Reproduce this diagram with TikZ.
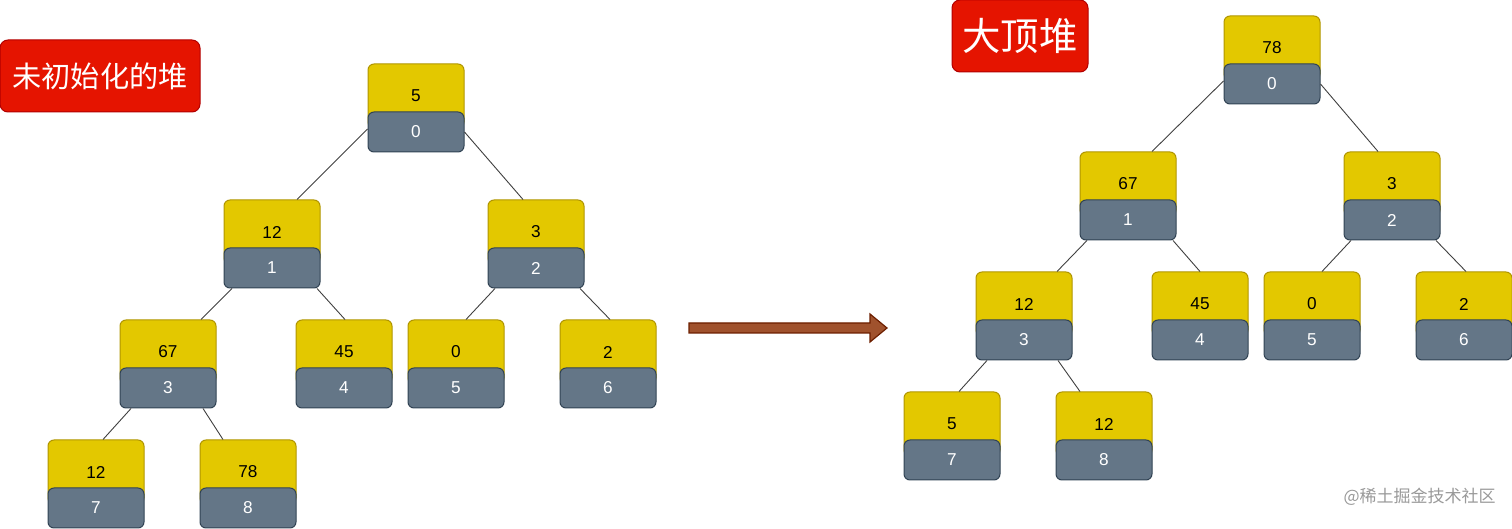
\documentclass[tikz,border=0pt]{standalone}
\usepackage{fontspec}
\setmainfont{Liberation Sans}
\newfontfamily\cjk{Noto Sans CJK SC}
\usetikzlibrary{calc}
\definecolor{yfill}{HTML}{E3C800}
\definecolor{ydraw}{HTML}{B09500}
\definecolor{gfill}{HTML}{647687}
\definecolor{gdraw}{HTML}{314354}
\definecolor{rfill}{HTML}{E51400}
\definecolor{rdraw}{HTML}{B20000}
\definecolor{afill}{HTML}{A0522D}
\definecolor{adraw}{HTML}{6D1F00}
\tikzset{
  ybox/.style={draw=ydraw, fill=yfill, rounded corners=3pt, line width=0.5pt,
    minimum width=48pt, minimum height=32pt, inner sep=0pt, font=\fontsize{8.6}{10}\selectfont, text=black},
  gbox/.style={draw=gdraw, fill=gfill, rounded corners=3pt, line width=0.5pt,
    minimum width=48pt, minimum height=20pt, inner sep=0pt, font=\fontsize{8.6}{10}\selectfont, text=white},
  redlabel/.style={draw=rdraw, fill=rfill, rounded corners=4pt, line width=0.5pt,
    inner sep=0pt, text=white},
  edge/.style={draw=black!75, line width=0.45pt},
  bigarrow/.style={draw=adraw, fill=afill, line width=0.6pt, line join=miter}
}
\newcommand\hnode[5]{%
  \node[ybox] (#1v) at (#2,#3+32) {#4};
  \node[gbox] (#1) at (#2,#3+68) {#5};
}
\begin{document}
\begin{tikzpicture}[x=0.5pt,y=-0.5pt]
\useasboundingbox (0,0) rectangle (1512,529);
% labels
\node[redlabel, minimum width=100pt, minimum height=36pt, font=\cjk\fontsize{14.6}{16}\selectfont] (t1) at (100,76) {未初始化的堆};
\node[redlabel, minimum width=68pt, minimum height=36pt, font=\cjk\fontsize{19.2}{21}\selectfont] (t2) at (1020,36) {大顶堆};
% left tree
\hnode{L0}{416}{64}{5}{0}
\hnode{L1}{272}{200}{12}{1}
\hnode{L2}{536}{200}{3}{2}
\hnode{L3}{168}{320}{67}{3}
\hnode{L4}{344}{320}{45}{4}
\hnode{L5}{456}{320}{0}{5}
\hnode{L6}{608}{320}{2}{6}
\hnode{L7}{96}{440}{12}{7}
\hnode{L8}{248}{440}{78}{8}
\draw[edge] ($(L0.west)+(0,-3)$) -- ($(L1v.north)+(25,0)$);
\draw[edge] (L0.east) -- ($(L2v.north)+(-13,0)$);
\draw[edge] ($(L1.south)+(-40,0)$) -- ($(L3v.north)+(33,0)$);
\draw[edge] ($(L1.south)+(45,0)$) -- ($(L4v.north)+(1,0)$);
\draw[edge] ($(L2.south)+(-41,0)$) -- ($(L5v.north)+(10,0)$);
\draw[edge] ($(L2.south)+(44,0)$) -- ($(L6v.north)+(2,0)$);
\draw[edge] ($(L3.south)+(-37,0)$) -- ($(L7v.north)+(7,0)$);
\draw[edge] ($(L3.south)+(35,0)$) -- ($(L8v.north)+(-25,0)$);
% right tree
\hnode{R0}{1272}{16}{78}{0}
\hnode{R1}{1128}{152}{67}{1}
\hnode{R2}{1392}{152}{3}{2}
\hnode{R3}{1024}{272}{12}{3}
\hnode{R4}{1200}{272}{45}{4}
\hnode{R5}{1312}{272}{0}{5}
\hnode{R6}{1464}{272}{2}{6}
\hnode{R7}{952}{392}{5}{7}
\hnode{R8}{1104}{392}{12}{8}
\draw[edge] ($(R0.west)+(0,-3)$) -- ($(R1v.north)+(24,0)$);
\draw[edge] (R0.east) -- ($(R2v.north)+(-14,0)$);
\draw[edge] ($(R1.south)+(-41,0)$) -- ($(R3v.north)+(33,0)$);
\draw[edge] ($(R1.south)+(45,0)$) -- ($(R4v.north)+(0,0)$);
\draw[edge] ($(R2.south)+(-41,0)$) -- ($(R5v.north)+(10,0)$);
\draw[edge] ($(R2.south)+(44,0)$) -- ($(R6v.north)+(2,0)$);
\draw[edge] ($(R3.south)+(-37,0)$) -- ($(R7v.north)+(7,0)$);
\draw[edge] ($(R3.south)+(34,0)$) -- ($(R8v.north)+(-24,0)$);
% big arrow
\draw[bigarrow] (689,323) -- (870,323) -- (870,314) -- (887,328) -- (870,342) -- (870,333) -- (689,333) -- cycle;
% watermark
\node[text=black!40, font=\cjk\fontsize{8.5}{10}\selectfont, anchor=east, inner sep=0pt] (wm) at (1496,497) {@稀土掘金技术社区};
\end{tikzpicture}
\end{document}
